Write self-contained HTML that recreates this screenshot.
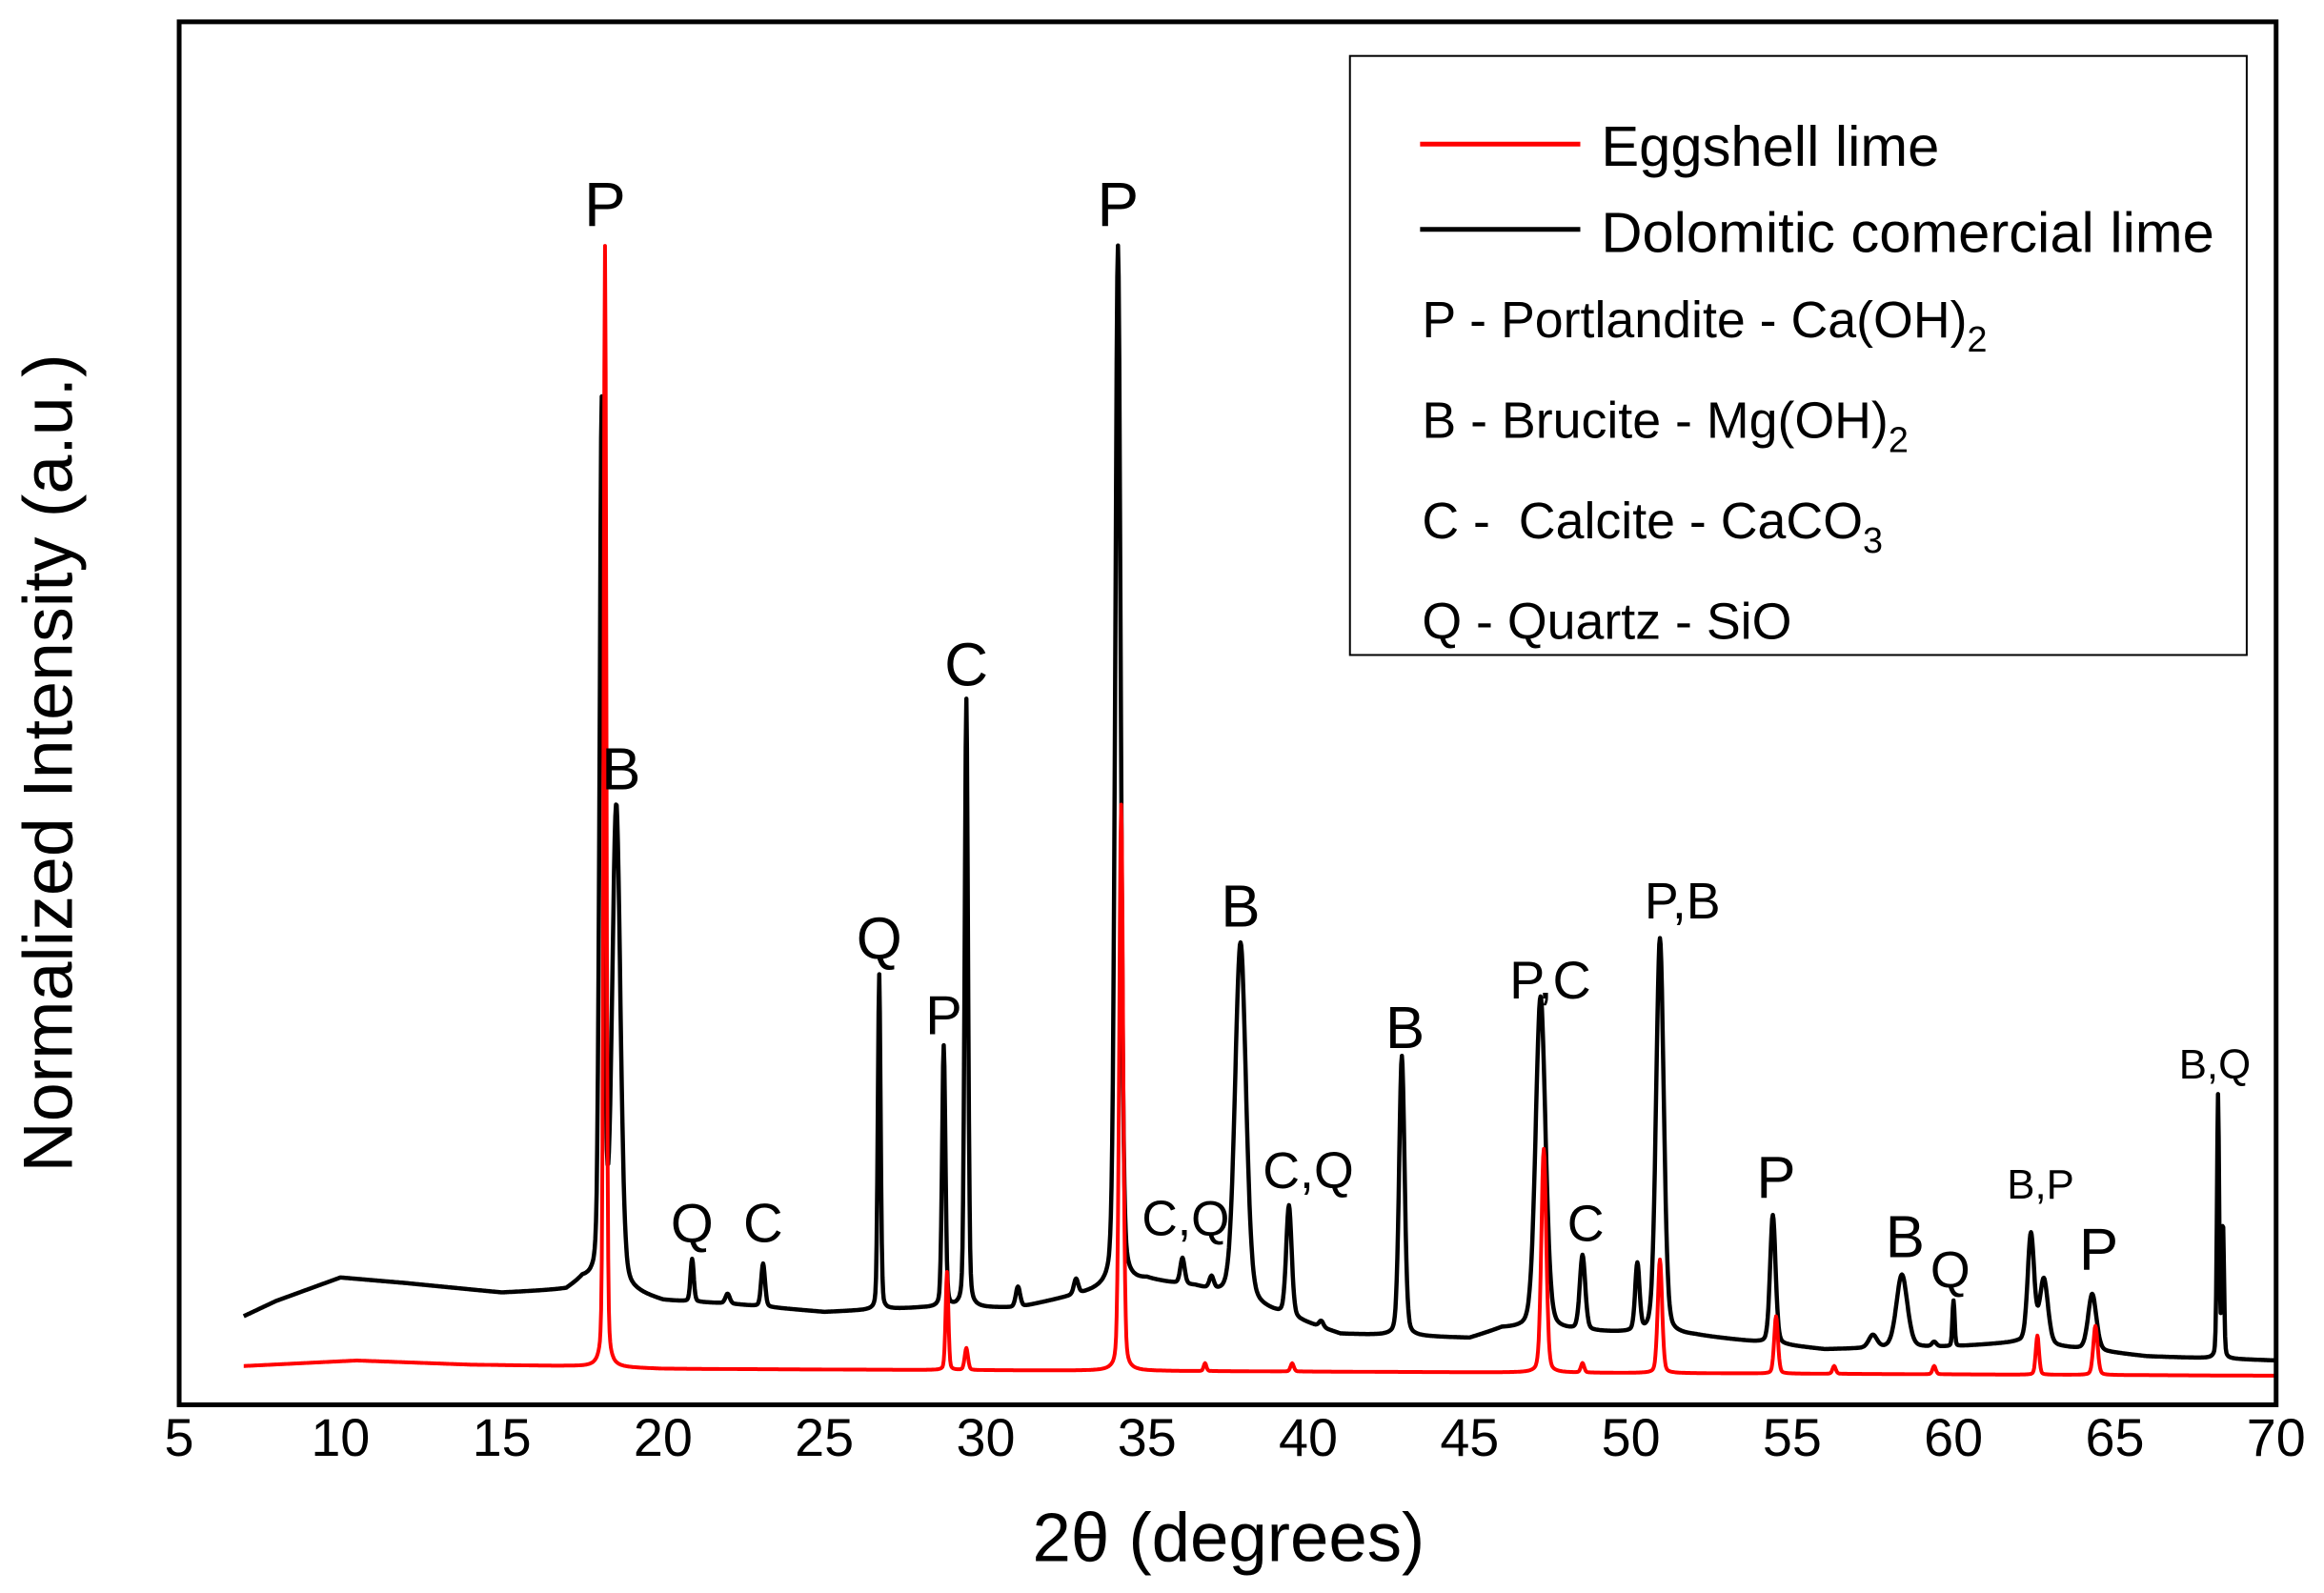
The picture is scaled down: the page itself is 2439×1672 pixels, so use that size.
<!DOCTYPE html>
<html><head><meta charset="utf-8"><style>
html,body{margin:0;padding:0;background:#fff}
svg{display:block}
text{font-family:"Liberation Sans",Arial,sans-serif;fill:#000}
</style></head><body>
<svg id="chart" width="2439" height="1672" viewBox="0 0 2439 1672" xmlns="http://www.w3.org/2000/svg">
<g transform="scale(0.9949)">
<g id="plot"></g>
<rect x="189" y="23" width="2212" height="1459" fill="none" stroke="#000" stroke-width="5"/>
<g id="xticks"></g>
<text x="1296" y="1647" font-size="73" text-anchor="middle">2θ (degrees)</text>
<text transform="translate(76,805) rotate(-90)" font-size="74" text-anchor="middle">Normalized Intensity (a.u.)</text>
<g>
<rect x="1424" y="59" width="946" height="632" fill="#fff" stroke="#000" stroke-width="2"/>
<line x1="1498" y1="152" x2="1667" y2="152" stroke="#f00" stroke-width="5"/>
<text x="1689" y="175" font-size="60">Eggshell lime</text>
<line x1="1498" y1="242" x2="1667" y2="242" stroke="#000" stroke-width="5"/>
<text x="1689" y="266" font-size="60">Dolomitic comercial lime</text>
<text x="1500" y="356" font-size="54">P - Portlandite - Ca(OH)<tspan font-size="38" dy="15">2</tspan></text>
<text x="1500" y="462" font-size="54">B - Brucite - Mg(OH)<tspan font-size="38" dy="15">2</tspan></text>
<text x="1500" y="568" font-size="54" xml:space="preserve">C -  Calcite - CaCO<tspan font-size="38" dy="15">3</tspan></text>
<text x="1500" y="674" font-size="54">Q - Quartz - SiO</text>
</g>
<g id="labels"></g>
</g>
</svg>
<script>
// x ticks
const xTicks = [5,10,15,20,25,30,35,40,45,50,55,60,65,70];
// baselines: [2theta, normalized intensity]
const blackBaseX = [7,8,10,12,15,17,17.5,20,22,25,28,31,33,35,36.5,41,45,46,52,54,56,60,62,66,70];
const blackBaseV = [0.064,0.075,0.092,0.088,0.081,0.083,0.09,0.075,0.073,0.067,0.07,0.07,0.08,0.09,0.085,0.051,0.048,0.055,0.05,0.045,0.04,0.042,0.045,0.035,0.032];
const redBaseX = [7,10.5,14,17,20,30,40,50,60,70];
const redBaseV = [0.028,0.032,0.029,0.028,0.026,0.025,0.024,0.023,0.022,0.021];
// black peaks: position, peak intensity, half-width
const blackPeakPos = [18.1,18.55,20.9,22.0,23.1,26.7,28.7,29.4,31.0,32.8,34.1,36.1,37.0,37.9,39.4,40.4,42.9,47.2,48.5,50.2,50.9,54.4,57.5,58.4,59.4,60.0,62.4,62.8,64.3,68.2,68.35];
const blackPeakVal = [0.72,0.43,0.105,0.08,0.102,0.311,0.259,0.51,0.085,0.09,0.838,0.105,0.09,0.334,0.143,0.06,0.252,0.295,0.107,0.1,0.337,0.137,0.05,0.094,0.045,0.075,0.123,0.09,0.08,0.223,0.13];
const blackPeakW = [0.08,0.15,0.06,0.08,0.07,0.05,0.06,0.06,0.08,0.08,0.1,0.08,0.08,0.2,0.1,0.08,0.1,0.18,0.1,0.08,0.14,0.1,0.15,0.2,0.08,0.04,0.12,0.15,0.15,0.04,0.04];
const redPeakPos = [18.2,28.8,29.4,34.2,36.8,39.5,47.3,48.5,50.9,54.5,56.3,59.4,62.6,64.4];
const redPeakVal = [0.838,0.096,0.041,0.434,0.03,0.03,0.185,0.03,0.105,0.064,0.028,0.028,0.05,0.057];
const redPeakW = [0.05,0.05,0.06,0.07,0.05,0.06,0.09,0.06,0.08,0.07,0.06,0.06,0.06,0.08];
// peak labels
const labelText = ["P","B","Q","C","Q","P","C","P","C,Q","B","C,Q","B","P,C","C","P,B","P","B","Q","B,P","P","B,Q"];
const labelX = [18.2,18.7,20.9,23.1,26.7,28.7,29.4,34.1,36.2,37.9,40.0,43.0,47.5,48.6,51.6,54.5,58.5,59.9,62.7,64.5,68.1];
const labelV = [0.868,0.459,0.131,0.131,0.337,0.281,0.535,0.868,0.135,0.360,0.169,0.272,0.307,0.131,0.364,0.164,0.121,0.097,0.159,0.112,0.246];
const labelSize = [66,62,58,58,62,58,64,66,52,62,54,62,56,54,54,62,62,54,44,62,44];

const NS = "http://www.w3.org/2000/svg";
const L=189,R=2401,T=23,B=1482;
const xs = d => L + (d-5)/(70-5)*(R-L);
const ys = v => B - v*(B-T);
function interp(X,V,x){ if(x<=X[0])return V[0]; for(let i=1;i<X.length;i++){ if(x<=X[i]){const t=(x-X[i-1])/(X[i]-X[i-1]);return V[i-1]+t*(V[i]-V[i-1]);}} return V[V.length-1]; }
function curve(bx,bv,pp,pv,pw){
  let d=""; for(let x=7;x<=70.0001;x+=0.02){
    const base=interp(bx,bv,x); let v=base;
    for(let i=0;i<pp.length;i++){ const h=pv[i]-interp(bx,bv,pp[i]); const u=(x-pp[i])/pw[i];
      v+=h*(0.75*Math.exp(-0.693*u*u)+0.25/(1+u*u)); }
    d+=(d?"L":"M")+xs(x).toFixed(1)+","+ys(v).toFixed(1);
  } return d;
}
const plot=document.getElementById('plot');
const pb=document.createElementNS(NS,'path');


pb.setAttribute('d',curve(blackBaseX,blackBaseV,blackPeakPos,blackPeakVal,blackPeakW));
pb.setAttribute('fill','none');pb.setAttribute('stroke','#000');pb.setAttribute('stroke-width','4.5');pb.setAttribute('stroke-linejoin','round');
plot.appendChild(pb);
const pr=document.createElementNS(NS,'path');


pr.setAttribute('d',curve(redBaseX,redBaseV,redPeakPos,redPeakVal,redPeakW));
pr.setAttribute('fill','none');pr.setAttribute('stroke','#f00');pr.setAttribute('stroke-width','4');pr.setAttribute('stroke-linejoin','round');
plot.appendChild(pr);
const xt=document.getElementById('xticks');
xTicks.forEach(t=>{
  const tx=document.createElementNS(NS,'text');
  
  
  tx.setAttribute('x',xs(t));tx.setAttribute('y',1536);tx.setAttribute('font-size','56');tx.setAttribute('text-anchor','middle');
  tx.textContent=t; xt.appendChild(tx);
});
const lg=document.getElementById('labels');
labelText.forEach((s,i)=>{
  const tx=document.createElementNS(NS,'text');
  
  
  tx.setAttribute('x',xs(labelX[i]));tx.setAttribute('y',ys(labelV[i]));
  tx.setAttribute('font-size',labelSize[i]);tx.setAttribute('text-anchor','middle');tx.setAttribute('dominant-baseline','central');
  tx.textContent=s; lg.appendChild(tx);
});
</script>
</body></html>
